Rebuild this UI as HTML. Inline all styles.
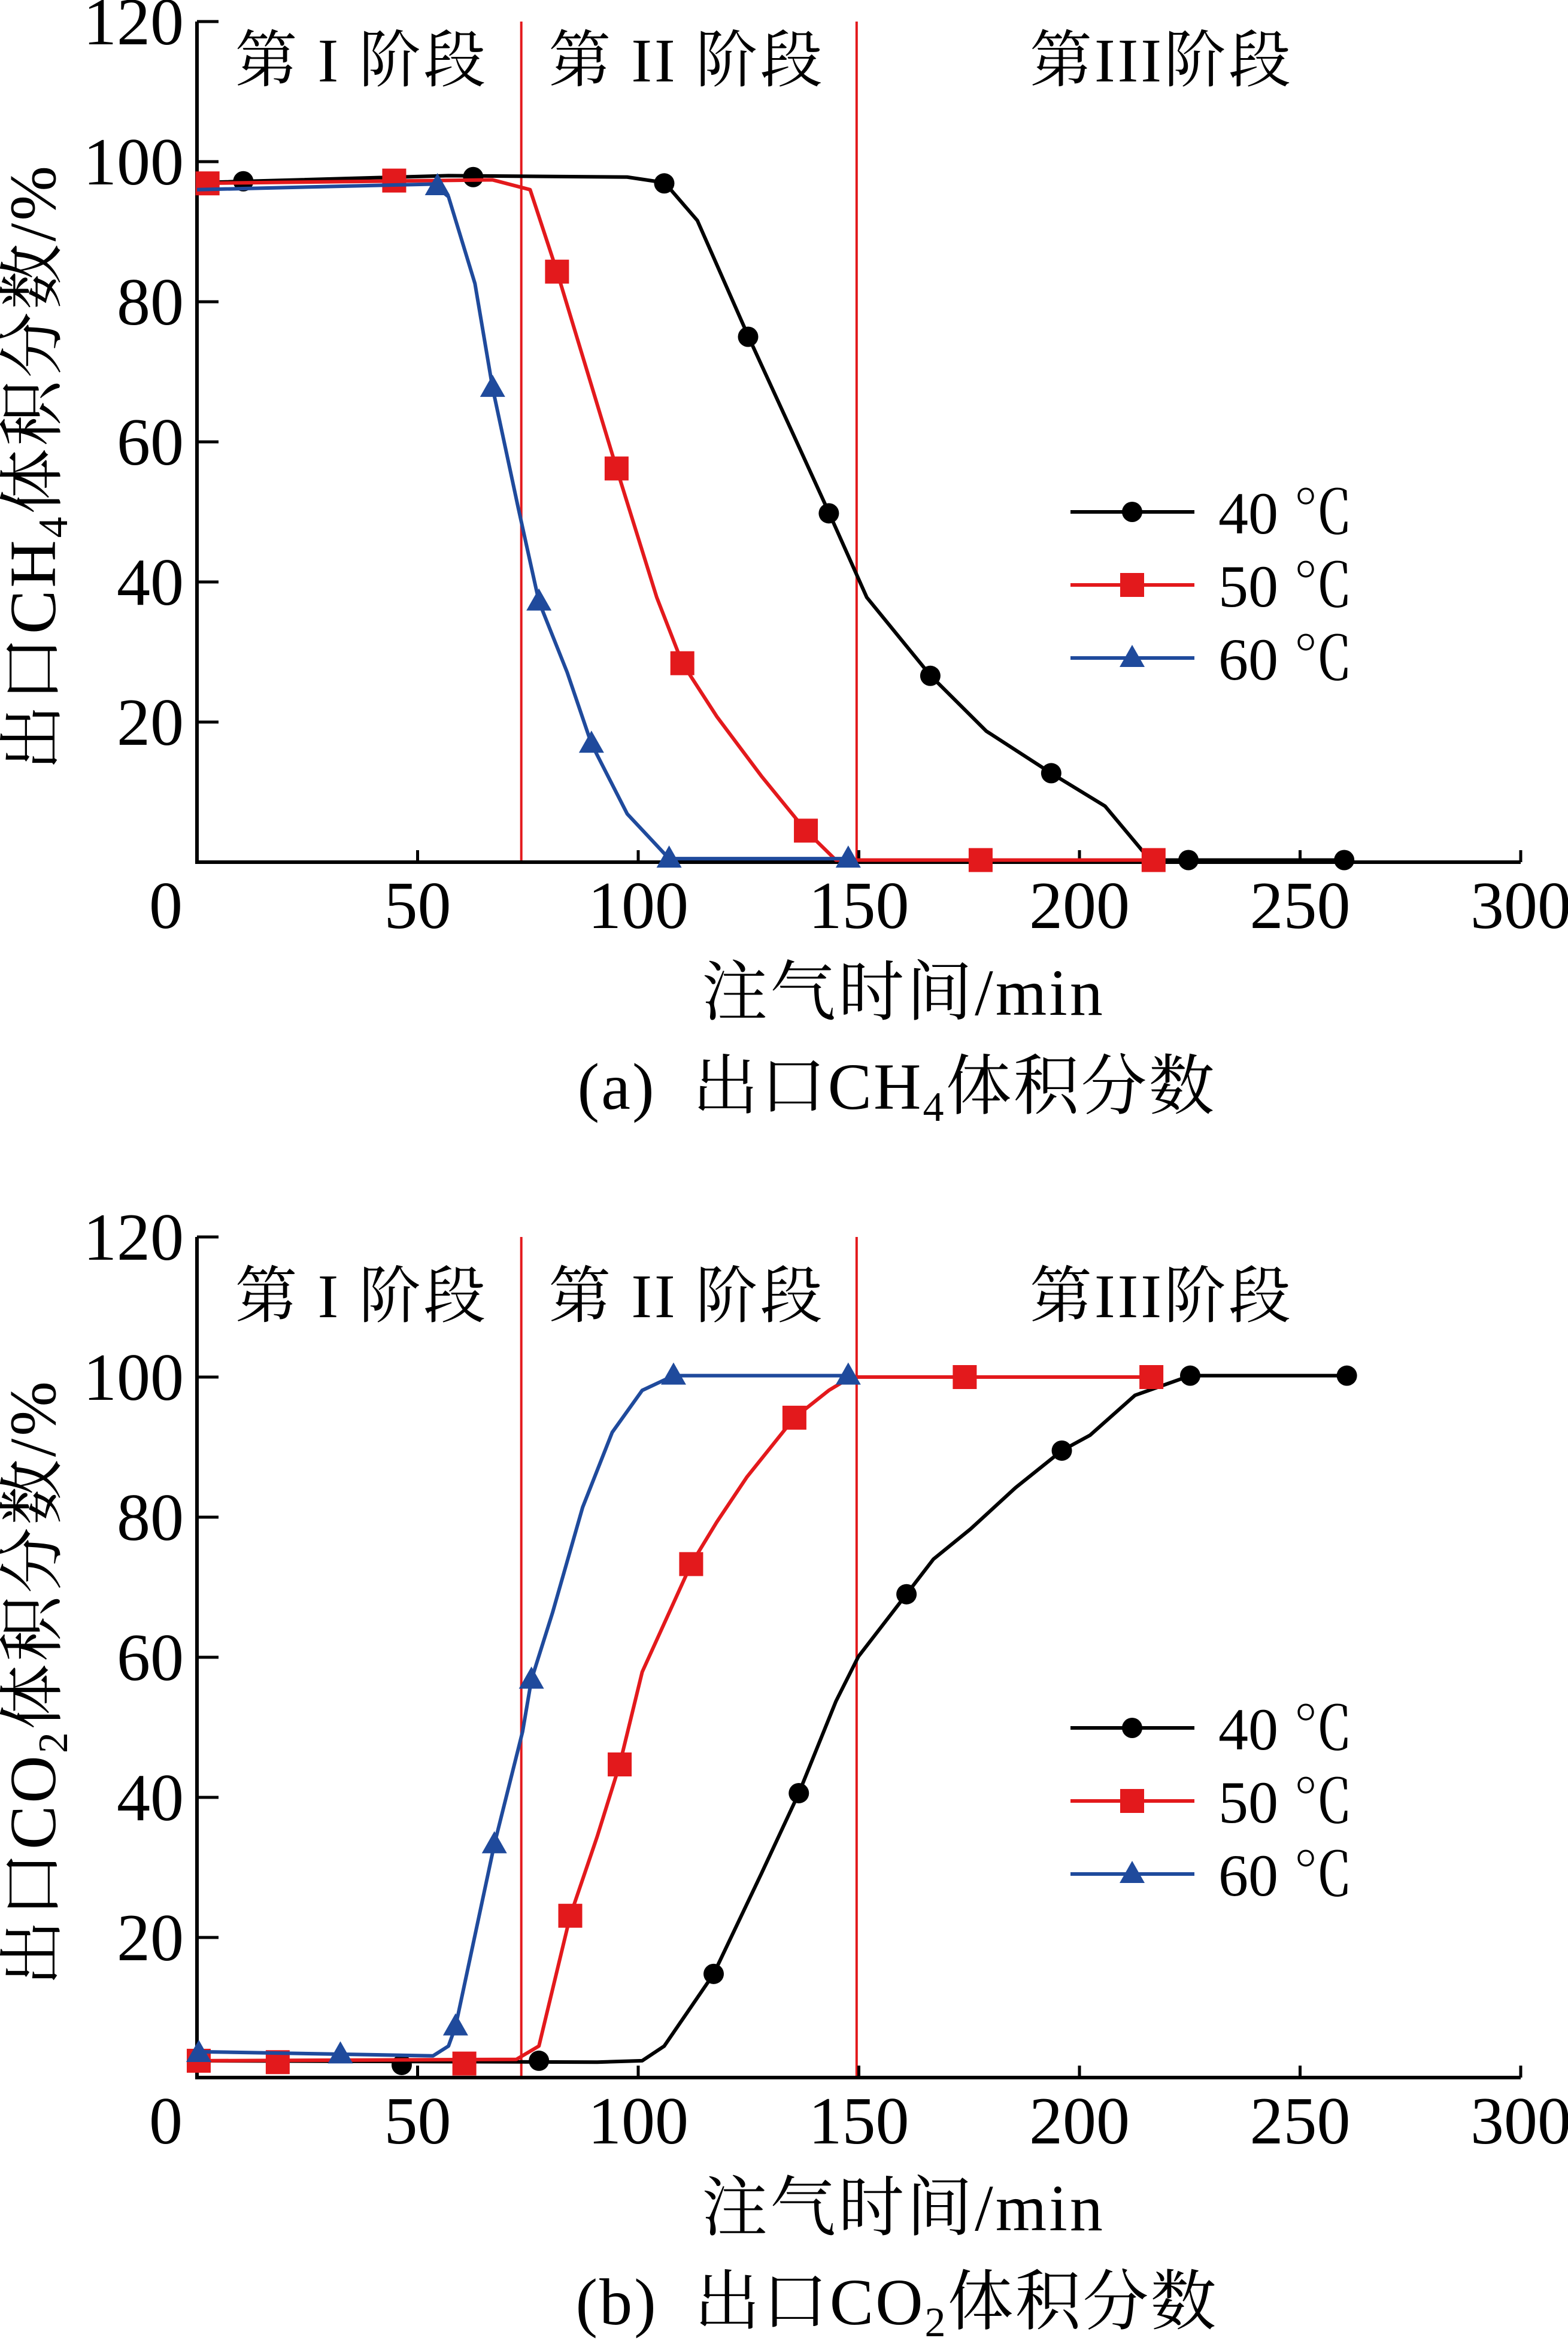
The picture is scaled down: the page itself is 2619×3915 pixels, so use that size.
<!DOCTYPE html>
<html><head><meta charset="utf-8">
<style>
html,body{margin:0;padding:0;background:#fff;}
svg{display:block;}
text{font-family:"Liberation Serif","Noto Serif CJK SC","Noto Sans CJK SC",serif;fill:#000;white-space:pre;}
</style></head>
<body>
<svg id="fig" width="2619" height="3915" viewBox="0 0 2619 3915" xmlns="http://www.w3.org/2000/svg"></svg>
<script>
// ---- data: chart (a) CH4 ----
const xTicks = [0,50,100,150,200,250,300];
const yTicks = [20,40,60,80,100,120];
const stageBounds = [73.5,149.5];
const seriesNames = ["40 ℃","50 ℃","60 ℃"];

const a40x = [0,57,97.5,106,113.4,125,134.9,143.3,151.8,166.3,178.9,193.6,205.8,214.3,219.3,260];
const a40y = [97.0,98.0,97.8,97.0,91.6,75,61.4,49.8,37.8,26.6,18.7,12.7,8.0,1.6,0.3,0.3];
const a40mx = [10.5,62.6,105.9,124.9,143.2,166.2,193.6,224.7,260];
const a40my = [97.2,97.8,96.9,75,49.8,26.6,12.7,0.3,0.3];
const a50x = [0,67,75.5,81.6,95.1,104.2,110,117.8,127.9,138,144.8,216.8];
const a50y = [96.9,97.4,96.0,84.3,56.2,37.8,28.4,20.8,12.3,4.5,0.3,0.3];
const a50mx = [2.4,44.7,81.6,95.1,110,138,177.6,216.8];
const a50my = [96.9,97.3,84.3,56.2,28.4,4.5,0.3,0.3];
const a60x = [0,53.5,57,63,67,72.8,77.5,83.9,89.4,97.5,107,147.6];
const a60y = [96.0,96.8,95.0,82.6,67.7,50.6,37.2,27.1,16.9,6.9,0.5,0.5];
const a60mx = [54.5,67,77.5,89.4,107,147.6];
const a60my = [96.5,67.7,37.2,16.9,0.5,0.5];

// ---- data: chart (b) CO2 ----
const b40x = [0,90.7,100.9,105.9,117.1,127.9,136.4,144.8,149.9,160.8,166.9,175.3,185.5,196,202.4,212.6,225.1,260.6];
const b40y = [2.4,2.2,2.4,4.5,14.8,29.1,40.6,53.7,60.1,69,74,78.3,84.2,89.5,91.7,97.4,100.2,100.2];
const b40mx = [0.4,46.4,77.5,117.1,136.4,160.8,196,225.1,260.6];
const b40my = [2.4,1.8,2.4,14.8,40.6,69,89.5,100.2,100.2];
const b50x = [0,72.4,77.5,84.6,90.7,95.8,100.9,112,117.8,124.6,135.4,143.2,148.2,216.3];
const b50y = [2.4,2.6,4.5,23.1,34.4,44.7,57.9,73.3,79.3,85.7,94.2,98.1,100.0,100.0];
const b50mx = [0.4,18.3,60.6,84.6,95.8,112,135.4,174,216.3];
const b50my = [2.4,2.2,2.0,23.1,44.7,73.3,94.2,100.0,100.0];
const b60x = [0,53.5,57,58.6,67.4,73.8,75.8,80.6,87.4,94.1,100.9,108,147.6];
const b60y = [3.7,3.1,4.5,7.3,33.3,49.4,56.8,66.4,81.4,92.1,98.1,100.2,100.2];
const b60mx = [0.4,32.5,58.6,67.4,75.8,108,147.6];
const b60my = [3.5,3.3,7.3,33.3,56.8,100.2,100.2];

const NS = "http://www.w3.org/2000/svg";
const svg = document.getElementById("fig");
const COLORS = ["#000000","#e3191c","#1f4a9c"];

function mk(tag, attrs, parent){
  const e = document.createElementNS(NS, tag);
  for (const k in attrs) e.setAttribute(k, attrs[k]);
  (parent||svg).appendChild(e);
  return e;
}

function marker(g, kind, cx, cy, color){
  let m;
  if (kind===0){ m = mk("circle",{cx:cx,cy:cy,r:17,fill:color},g); }
  else if (kind===1){ m = mk("rect",{x:cx-20,y:cy-20,width:40,height:40,fill:color},g); }
  else { m = mk("polygon",{points:`${cx},${cy-22} ${cx-21},${cy+15} ${cx+21},${cy+15}`,fill:color},g); }
  
  
}

function chart(opt){
  const X0=329, XS=7.37, Y0=opt.y0, YS=11.7;
  const sx = v => X0 + v*XS;
  const sy = v => Y0 - v*YS;
  const g = mk("g",{});
  
  

  stageBounds.forEach(b=>{
    const l = mk("line",{x1:sx(b),x2:sx(b),y1:sy(120),y2:Y0,stroke:"#e3191c","stroke-width":4},g);
    
    
  });

  const ya = mk("line",{x1:X0,x2:X0,y1:sy(120),y2:Y0+3,stroke:"#000","stroke-width":6},g);
  
  
  const xa = mk("line",{x1:X0-3,x2:sx(300),y1:Y0,y2:Y0,stroke:"#000","stroke-width":6},g);
  
  

  yTicks.forEach(t=>{
    const tl = mk("line",{x1:X0,x2:X0+36,y1:sy(t),y2:sy(t),stroke:"#000","stroke-width":5},g);
    
    
    const tx = mk("text",{x:X0-22,y:sy(t)+38,"font-size":112,"text-anchor":"end"},g);
    tx.textContent = t;
    
    
  });
  xTicks.forEach(t=>{
    if (t>0){
      const tl = mk("line",{x1:sx(t),x2:sx(t),y1:Y0,y2:Y0-20,stroke:"#000","stroke-width":5},g);
      
      
    }
    const tx = mk("text",{x:t===0?277:sx(t),y:Y0+110,"font-size":112,"text-anchor":"middle"},g);
    tx.textContent = t;
    
    
  });

  const st = [["第 I 阶段",604],["第 II 阶段",1147],["第III阶段",1940]];
  st.forEach(s=>{
    const tx = mk("text",{x:s[1],y:opt.stageY,"font-size":104,"letter-spacing":4,"text-anchor":"middle"},g);
    tx.textContent = s[0];
    
    
  });

  opt.series.forEach((s,i)=>{
    const pts = s.x.map((v,j)=>`${sx(v)},${sy(s.y[j])}`).join(" ");
    const pl = mk("polyline",{points:pts,fill:"none",stroke:COLORS[i],"stroke-width":6,"stroke-linejoin":"round"},g);
    
    
    s.mx.forEach((v,j)=>marker(g,i,sx(v),sy(s.my[j]),COLORS[i]));
  });

  seriesNames.forEach((n,i)=>{
    const ly = opt.legY + i*122;
    const ll = mk("line",{x1:1788,x2:1995,y1:ly,y2:ly,stroke:COLORS[i],"stroke-width":6},g);
    
    
    marker(g,i,1891,ly,COLORS[i]);
    const tx = mk("text",{x:2035,y:ly+36,"font-size":100},g);
    tx.textContent = n;
    
    
  });

  const xt = mk("text",{x:1509,y:opt.y0+255,"font-size":110,"letter-spacing":4,"text-anchor":"middle"},g);
  xt.textContent = "注气时间/min";
  
  

  const yt = mk("text",{x:0,y:0,"font-size":110,"letter-spacing":4,"text-anchor":"middle",transform:`translate(92,${opt.yTitleY}) rotate(-90)`},g);
  yt.innerHTML = opt.yTitle;
  
  

  const cp = mk("text",{x:1498,y:opt.y0+412,"font-size":110,"letter-spacing":3,"text-anchor":"middle"},g);
  cp.innerHTML = opt.caption;
  
  
}

chart({name:"chart-ch4", y0:1440, stageY:136, legY:855, yTitleY:780,
  yTitle:'出口CH<tspan font-size="70" dy="20">4</tspan><tspan dy="-20">体积分数/%</tspan>',
  caption:'(a)  出口CH<tspan font-size="70" dy="20">4</tspan><tspan dy="-20">体积分数</tspan>',
  series:[{x:a40x,y:a40y,mx:a40mx,my:a40my},{x:a50x,y:a50y,mx:a50mx,my:a50my},{x:a60x,y:a60y,mx:a60mx,my:a60my}]});

chart({name:"chart-co2", y0:3470, stageY:2200, legY:2886, yTitleY:2810,
  yTitle:'出口CO<tspan font-size="70" dy="20">2</tspan><tspan dy="-20">体积分数/%</tspan>',
  caption:'(b)  出口CO<tspan font-size="70" dy="20">2</tspan><tspan dy="-20">体积分数</tspan>',
  series:[{x:b40x,y:b40y,mx:b40mx,my:b40my},{x:b50x,y:b50y,mx:b50mx,my:b50my},{x:b60x,y:b60y,mx:b60mx,my:b60my}]});
</script>
</body></html>
